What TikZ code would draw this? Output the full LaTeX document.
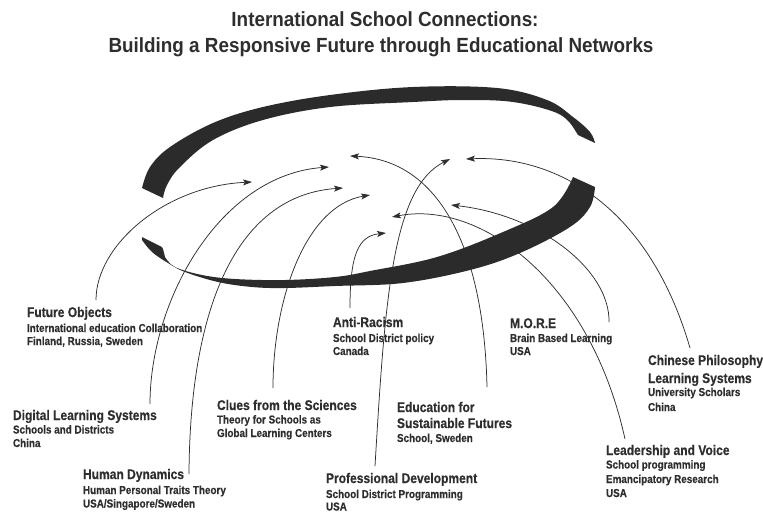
\documentclass[tikz,border=0pt]{standalone}
\usepackage{fontspec}
\usetikzlibrary{arrows.meta}

% condensed bold faces for title, headings and detail lines
\newfontfamily\titlefam[UprightFont={* Bold},FakeStretch=0.92]{Liberation Sans}
\newfontfamily\headfam[UprightFont={* Bold},FakeStretch=0.86,FakeBold=0.4]{Liberation Sans}
\newfontfamily\subfam[UprightFont={* Bold},FakeStretch=0.86,FakeBold=0.3]{Liberation Sans}

\definecolor{ink}{HTML}{2E2E2E}
\definecolor{ribboncol}{HTML}{2B2B2B}

% one line of a label, zero height so that baselines are set by explicit kerns
\newcommand\headl[1]{\hbox{\smash{\headfam\fontsize{14}{14}\selectfont #1}}}
\newcommand\subl[1]{\hbox{\smash{\subfam\fontsize{11.5}{11.5}\selectfont #1}}}
\newcommand\lblstack[1]{\vtop{\offinterlineskip #1}}

\tikzset{
  lbl/.style={anchor=base west, inner sep=0pt, outer sep=0pt, text=ink},
  titletext/.style={anchor=base, inner sep=0pt, text=ink,
    font=\titlefam\fontsize{20.5}{20.5}\selectfont},
  conn/.style={draw=ink, line width=0.75pt,
    -{Stealth[length=9pt,width=6pt,inset=2pt]}},
  ribbon/.style={fill=ribboncol},
}

\begin{document}
\begin{tikzpicture}[x=1pt,y=-1pt]
\useasboundingbox (0,0) rectangle (763,512);

% title
\node[titletext] (t1) at (385,26) {International School Connections:};
\node[titletext] (t2) at (381,52) {Building a Responsive Future through Educational Networks};

% upper band of the ring, thick at the left, tapering to the right
\fill[ribbon] plot[smooth,tension=0.6] coordinates {(142,188) (150,167) (170,147) (213,123) (263,107) (330,95) (413,87) (497,88) (547,100) (573,117) (590,132) (595,143)}
  -- (578,135)
  -- plot[smooth,tension=0.6] coordinates {(573,127) (557,113) (513,102) (463,100) (413,102) (330,107) (263,120) (213,140) (180,167) (167,185) (163,198)}
  -- cycle;

% lower band of the ring, thin at the left, widening to the right
\fill[ribbon] (142,237) -- (152,242) -- (162,247) -- (163,249)
  -- plot[smooth,tension=0.6] coordinates {(165,257) (175,267) (202,275) (235,279) (285,280) (335,277) (370,271) (437,257) (503,232) (553,207) (573,177)}
  -- plot[smooth,tension=0.6] coordinates {(595,187) (590,207) (570,227) (520,253) (470,270) (403,283) (335,286) (285,288) (252,287) (218,282) (185,272) (168,263) (152,252) (142,240)}
  -- cycle;

% labels
\node[lbl] (fo) at (27,317) {\lblstack{\headl{Future Objects}\kern15pt
  \subl{International education Collaboration}\kern13pt
  \subl{Finland, Russia, Sweden}}};
\node[lbl] (dls) at (13,420) {\lblstack{\headl{Digital Learning Systems}\kern13.5pt
  \subl{Schools and Districts}\kern13.5pt
  \subl{China}}};
\node[lbl] (hd) at (83,479) {\lblstack{\headl{Human Dynamics}\kern15pt
  \subl{Human Personal Traits Theory}\kern13.5pt
  \subl{USA/Singapore/Sweden}}};
\node[lbl] (cs) at (217,410) {\lblstack{\headl{Clues from the Sciences}\kern13.5pt
  \subl{Theory for Schools as}\kern13.5pt
  \subl{Global Learning Centers}}};
\node[lbl] (ar) at (333,327) {\lblstack{\headl{Anti-Racism}\kern15pt
  \subl{School District policy}\kern13pt
  \subl{Canada}}};
\node[lbl] (pd) at (326,483) {\lblstack{\headl{Professional Development}\kern15pt
  \subl{School District Programming}\kern12.5pt
  \subl{USA}}};
\node[lbl] (esf) at (397,412) {\lblstack{\headl{Education for}\kern16pt
  \headl{Sustainable Futures}\kern14pt
  \subl{School, Sweden}}};
\node[lbl] (more) at (510,328) {\lblstack{\headl{M.O.R.E}\kern14pt
  \subl{Brain Based Learning}\kern13pt
  \subl{USA}}};
\node[lbl] (lv) at (606,455) {\lblstack{\headl{Leadership and Voice}\kern13.5pt
  \subl{School programming}\kern14.5pt
  \subl{Emancipatory Research}\kern14pt
  \subl{USA}}};
\node[lbl] (cp) at (648,365) {\lblstack{\headl{Chinese Philosophy}\kern18pt
  \headl{Learning Systems}\kern13pt
  \subl{University Scholars}\kern15pt
  \subl{China}}};

% connector ends at the labels
\coordinate (fo-s)   at (96,300);
\coordinate (dls-s)  at (150,404);
\coordinate (hd-s)   at (189,474);
\coordinate (cs-s)   at (273,388);
\coordinate (ar-s)   at (350,308);
\coordinate (pd-s)   at (375,466);
\coordinate (esf-s)  at (487,387);
\coordinate (more-s) at (609,322);
\coordinate (lv-s)   at (625,439);
\coordinate (cp-s)   at (690,348);

% arrow tips inside the ring
\coordinate (fo-t)   at (252,182);
\coordinate (dls-t)  at (329,167);
\coordinate (hd-t)   at (343,188);
\coordinate (cs-t)   at (370,195);
\coordinate (ar-t)   at (386,233);
\coordinate (pd-t)   at (450,159);
\coordinate (esf-t)  at (350,156);
\coordinate (more-t) at (451,205);
\coordinate (lv-t)   at (392,217);
\coordinate (cp-t)   at (466,159);

% connectors
\draw[conn] (fo-s)   .. controls (96,245)  and (165,186) .. (fo-t);
\draw[conn] (dls-s)  .. controls (150,300) and (220,175) .. (dls-t);
\draw[conn] (hd-s)   .. controls (190,300) and (240,195) .. (hd-t);
\draw[conn] (cs-s)   .. controls (273,300) and (305,206) .. (cs-t);
\draw[conn] (ar-s)   .. controls (350,255) and (358,236) .. (ar-t);
\draw[conn] (pd-s)   .. controls (385,300) and (392,188) .. (pd-t);
\draw[conn] (esf-s)  .. controls (484,250) and (440,160) .. (esf-t);
\draw[conn] (more-s) .. controls (610,270) and (540,215) .. (more-t);
\draw[conn] (lv-s)   .. controls (590,280) and (480,200) .. (lv-t);
\draw[conn] (cp-s)   .. controls (650,210) and (560,155) .. (cp-t);
\end{tikzpicture}
\end{document}
